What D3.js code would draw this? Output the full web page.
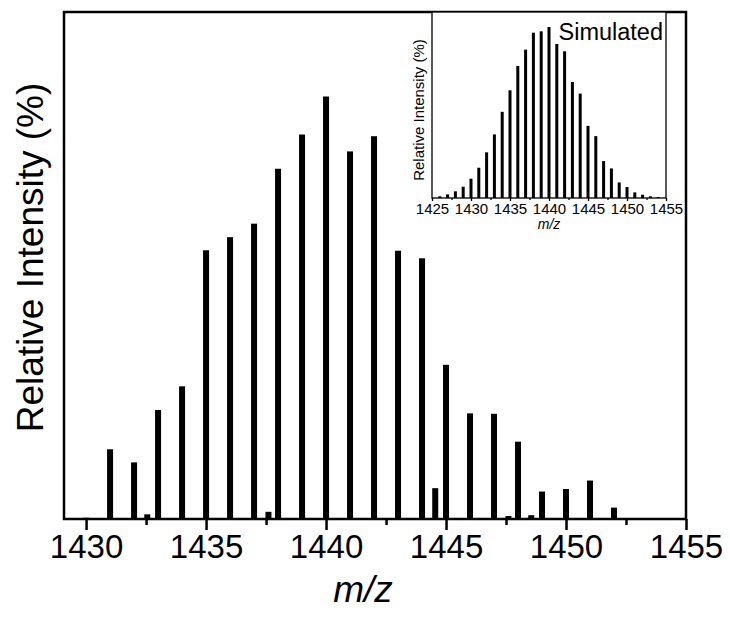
<!DOCTYPE html>
<html>
<head>
<meta charset="utf-8">
<script src="https://cdn.jsdelivr.net/npm/d3@7"></script>
<style>
  html, body { margin: 0; padding: 0; background: #fff; }
  svg { display: block; font-family: Arial, "Liberation Sans", sans-serif; }
</style>
</head>
<body>
<svg id="chart" width="730" height="618"></svg>
<script>
// Measured isotope pattern (m/z, relative intensity %)
const measuredMz = [1430, 1431, 1432, 1432.55, 1433, 1434, 1435, 1436, 1437, 1437.6,
  1438, 1439, 1440, 1441, 1442, 1443, 1444, 1444.55, 1445, 1446, 1447, 1447.6,
  1448, 1448.55, 1449, 1450, 1451, 1452];
const measuredIntensity = [0.3, 16.5, 13.4, 1.1, 25.8, 31.4, 63.6, 66.7, 69.9, 1.7,
  82.9, 91.0, 100, 87.0, 90.6, 63.5, 61.7, 7.3, 36.5, 25.0, 24.9, 0.7,
  18.3, 0.9, 6.5, 7.1, 9.1, 2.7];

// Simulated isotope pattern
const simulatedMz = [1426, 1427, 1428, 1429, 1430, 1431, 1432, 1433, 1434, 1435,
  1436, 1437, 1438, 1439, 1440, 1441, 1442, 1443, 1444, 1445, 1446, 1447, 1448,
  1449, 1450, 1451, 1452, 1453, 1454];
const simulatedIntensity = [1.0, 2.1, 3.9, 6.6, 11.3, 17.7, 26.7, 37.2, 50.4, 63.0,
  77.2, 86.8, 96.7, 97.5, 100, 90.1, 85.8, 67.9, 61.1, 42.2, 36.2, 21.6, 17.3,
  9.1, 6.4, 3.3, 1.9, 1.0, 0.6];

// Tick values
const mainMajorTicks = [1430, 1435, 1440, 1445, 1450, 1455];
const mainMinorTicks = [1432.5, 1437.5, 1442.5, 1447.5, 1452.5];
const insetMajorTicks = [1425, 1430, 1435, 1440, 1445, 1450, 1455];
const insetMinorTicks = [1427.5, 1432.5, 1437.5, 1442.5, 1447.5, 1452.5];

const svg = d3.select("#chart");

// ---------- main panel ----------
const main = { left: 64, right: 686, top: 12, bottom: 519 };
const x = d3.scaleLinear().domain([1429.08, 1455]).range([main.left, main.right]);
const y = d3.scaleLinear().domain([0, 120]).range([main.bottom, main.top]);

const barW = 6;
svg.append("g").selectAll("rect")
  .data(measuredMz.map((m, i) => ({ m, v: measuredIntensity[i] })))
  .join("rect")
  .attr("x", d => x(d.m) - barW / 2)
  .attr("y", d => y(d.v))
  .attr("width", barW)
  .attr("height", d => y(0) - y(d.v))
  .attr("fill", "#000");

// frame
svg.append("rect")
  .attr("x", main.left).attr("y", main.top)
  .attr("width", main.right - main.left).attr("height", main.bottom - main.top)
  .attr("fill", "none").attr("stroke", "#000").attr("stroke-width", 2.5);

const xAxis = svg.append("g")
  .attr("transform", `translate(0,${main.bottom})`)
  .call(d3.axisBottom(x).tickValues(mainMajorTicks).tickSize(11).tickFormat(d3.format("d")));
xAxis.select(".domain").remove();
xAxis.selectAll(".tick line").attr("stroke-width", 2.5);
xAxis.selectAll(".tick text")
  .attr("font-size", 33).attr("font-family", "Arial, 'Liberation Sans', sans-serif")
  .attr("fill", "#000").attr("dy", "0.9em").attr("y", 9);

const xMinor = svg.append("g")
  .attr("transform", `translate(0,${main.bottom})`)
  .call(d3.axisBottom(x).tickValues(mainMinorTicks).tickSize(6).tickFormat(""));
xMinor.select(".domain").remove();
xMinor.selectAll(".tick line").attr("stroke-width", 2.5);

svg.append("text")
  .attr("x", (main.left + main.right) / 2 - 12)
  .attr("y", 602)
  .attr("text-anchor", "middle")
  .attr("font-size", 37)
  .attr("font-style", "italic")
  .text("m/z");

svg.append("text")
  .attr("transform", `translate(43,${(main.top + main.bottom) / 2 - 8}) rotate(-90)`)
  .attr("text-anchor", "middle")
  .attr("font-size", 37)
  .text("Relative Intensity (%)");

// ---------- inset panel ----------
const ins = { left: 432, right: 666, top: 12, bottom: 198 };
const xi = d3.scaleLinear().domain([1425, 1455]).range([ins.left, ins.right]);
const yi = d3.scaleLinear().domain([0, 108.8]).range([ins.bottom, ins.top]);

svg.append("rect")
  .attr("x", ins.left).attr("y", ins.top)
  .attr("width", ins.right - ins.left).attr("height", ins.bottom - ins.top)
  .attr("fill", "#fff");

const barWi = 3;
svg.append("g").selectAll("rect")
  .data(simulatedMz.map((m, i) => ({ m, v: simulatedIntensity[i] })))
  .join("rect")
  .attr("x", d => xi(d.m) - barWi / 2)
  .attr("y", d => yi(d.v))
  .attr("width", barWi)
  .attr("height", d => yi(0) - yi(d.v))
  .attr("fill", "#000");

svg.append("rect")
  .attr("x", ins.left).attr("y", ins.top)
  .attr("width", ins.right - ins.left).attr("height", ins.bottom - ins.top)
  .attr("fill", "none").attr("stroke", "#000").attr("stroke-width", 1.3);

const xiAxis = svg.append("g")
  .attr("transform", `translate(0,${ins.bottom})`)
  .call(d3.axisBottom(xi).tickValues(insetMajorTicks).tickSize(3).tickFormat(d3.format("d")));
xiAxis.select(".domain").remove();
xiAxis.selectAll(".tick line").attr("stroke-width", 1.3);
xiAxis.selectAll(".tick text")
  .attr("font-size", 15).attr("font-family", "Arial, 'Liberation Sans', sans-serif")
  .attr("fill", "#000").attr("dy", "0.9em").attr("y", 2);

const xiMinor = svg.append("g")
  .attr("transform", `translate(0,${ins.bottom})`)
  .call(d3.axisBottom(xi).tickValues(insetMinorTicks).tickSize(2).tickFormat(""));
xiMinor.select(".domain").remove();
xiMinor.selectAll(".tick line").attr("stroke-width", 1.3);

svg.append("text")
  .attr("x", (ins.left + ins.right) / 2)
  .attr("y", 229)
  .attr("text-anchor", "middle")
  .attr("font-size", 14)
  .attr("font-style", "italic")
  .text("m/z");

svg.append("text")
  .attr("transform", `translate(424,${(ins.top + ins.bottom) / 2 + 5}) rotate(-90)`)
  .attr("text-anchor", "middle")
  .attr("font-size", 15)
  .text("Relative Intensity (%)");

svg.append("text")
  .attr("x", 663)
  .attr("y", 40)
  .attr("text-anchor", "end")
  .attr("font-size", 23.5)
  .text("Simulated");
</script>
</body>
</html>
